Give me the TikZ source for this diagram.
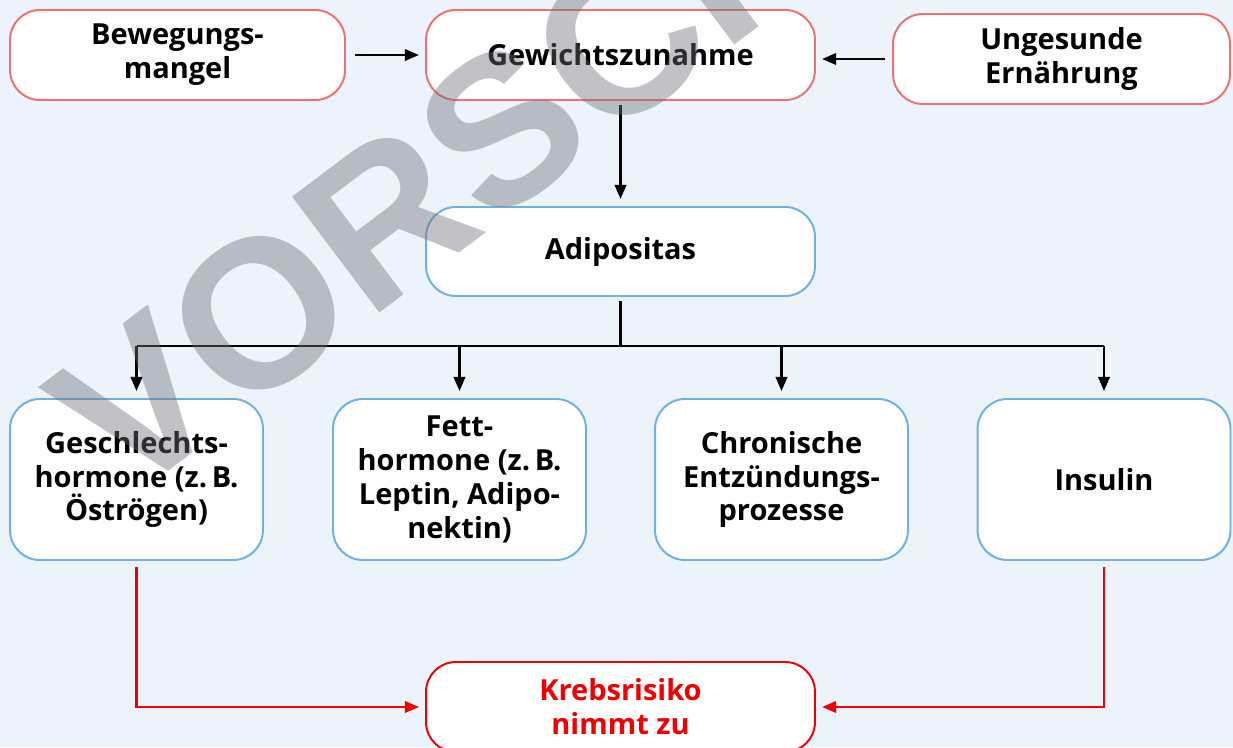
\documentclass[tikz,border=0pt]{standalone}
\usepackage{fontspec}
\setmainfont{Open Sans}
\newfontfamily\markfont{Liberation Sans}
\usetikzlibrary{arrows.meta}

\definecolor{bgblue}{RGB}{236,243,251}
\definecolor{boxred}{RGB}{240,112,112}
\definecolor{boxblue}{RGB}{110,176,224}
\definecolor{riskred}{RGB}{240,0,0}
\definecolor{markgray}{RGB}{110,112,120}

\tikzset{
  box/.style={draw, fill=white, line width=1.1pt, rounded corners=17pt, align=center,
    inner sep=2pt, font=\bfseries\fontsize{16.5}{19.3}\selectfont},
  causebox/.style={box, draw=boxred, minimum height=1.8cm},
  effectbox/.style={box, draw=boxblue, minimum width=5.06cm, minimum height=3.22cm},
  riskbox/.style={box, draw=riskred, text=riskred, minimum width=7.78cm, minimum height=1.8cm},
  arrow/.style={line width=1.3pt, -{Triangle[length=8pt,width=6.5pt]}},
  redarrow/.style={arrow, draw=riskred, shorten <=3.5pt, shorten >=3.5pt},
}

\begin{document}
\begin{tikzpicture}[x=0.02cm, y=-0.02cm]
  \clip (0,0) rectangle (1233,747);
  \fill[bgblue] (0,0) rectangle (1233,747);

  % obere Reihe
  \node[causebox, minimum width=6.7cm] (bewegung) at (177.5,55) {Bewegungs-\\mangel};
  \node[causebox, minimum width=7.78cm] (gewicht) at (620.5,55) {Gewichtszunahme};
  \node[causebox, minimum width=6.74cm] (ernaehrung) at (1061.5,59) {Ungesunde\\Ernährung};
  \node[box, draw=boxblue, minimum width=7.78cm, minimum height=1.78cm] (adipositas) at (620.5,251.5) {Adipositas};

  % Folgen
  \node[effectbox] (geschlecht) at (136.5,479.5) {Geschlechts-\\hormone (z.\,B.\\Öströgen)};
  \node[effectbox] (fett) at (459.5,479.5) {Fett-\\hormone (z.\,B.\\Leptin, Adipo-\\nektin)};
  \node[effectbox] (entzuendung) at (781.5,479.5) {Chronische\\Entzündungs-\\prozesse};
  \node[effectbox] (insulin) at (1104,479.5) {Insulin};
  \node[riskbox] (krebs) at (620.5,707) {Krebsrisiko\\nimmt zu};

  \coordinate (split) at (620.5,346);

  \draw[arrow, shorten <=5pt, shorten >=3.5pt] (bewegung.east) -- (bewegung.east -| gewicht.west);
  \draw[arrow, shorten <=4pt, shorten >=3.5pt] (ernaehrung.west) -- (ernaehrung.west -| gewicht.east);
  \draw[arrow, shorten <=2.5pt, shorten >=4pt] (gewicht.south) -- (adipositas.north);
  \draw[line width=1.3pt, shorten <=2.5pt] (adipositas.south) -- (split);
  \draw[line width=1.3pt] (split -| geschlecht) -- (split -| insulin);
  \foreach \n in {geschlecht, fett, entzuendung, insulin}
    \draw[arrow, shorten >=4pt] (split -| \n.north) -- (\n.north);

  \draw[redarrow] (geschlecht.south) |- (krebs.west);
  \draw[redarrow] (insulin.south) |- (krebs.east);

  % Wasserzeichen
  \node[rotate=37, anchor=west, inner sep=0pt, text=markgray, opacity=0.42,
    font=\markfont\bfseries\fontsize{120}{120}\selectfont] (vorschau) at (81,447) {VORSCHAU};
\end{tikzpicture}
\end{document}
